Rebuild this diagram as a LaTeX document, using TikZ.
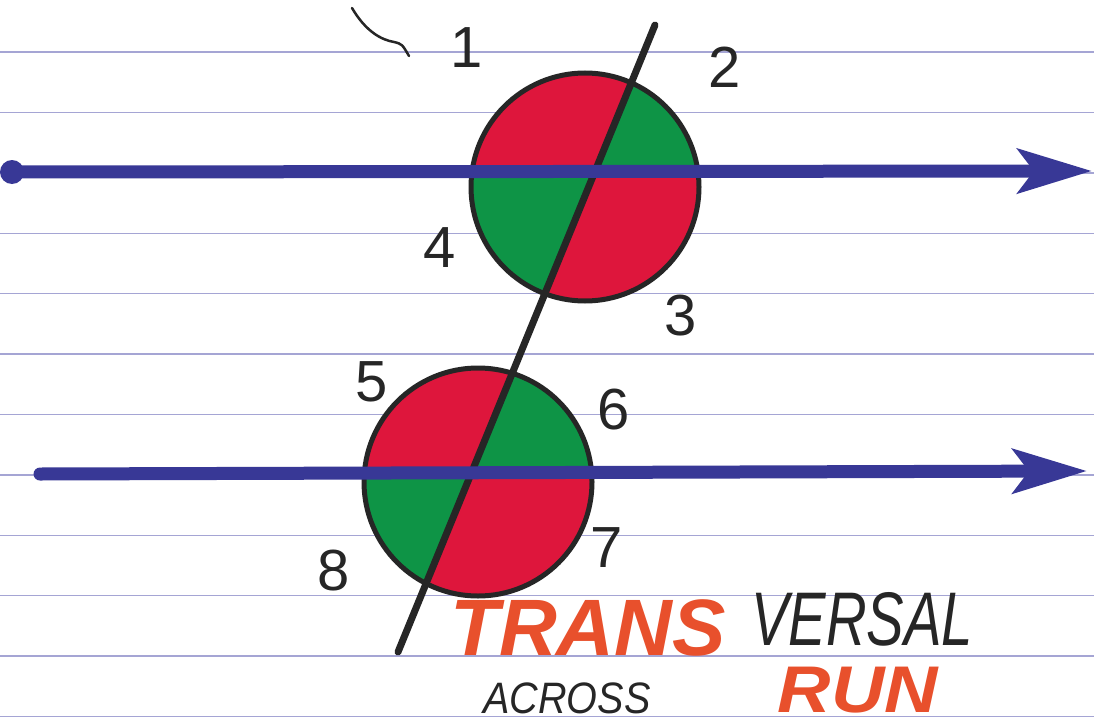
\documentclass[tikz,border=0pt]{standalone}
\usepackage{fontspec}
\setmainfont{Liberation Sans}
\usetikzlibrary{arrows.meta,calc}
\definecolor{paperline}{RGB}{165,165,212}
\definecolor{penblue}{RGB}{56,56,150}
\definecolor{penred}{RGB}{222,22,60}
\definecolor{pengreen}{RGB}{14,148,70}
\definecolor{penorange}{RGB}{232,80,44}
\definecolor{penblack}{RGB}{38,38,38}

\tikzset{
  numlabel/.style={font=\fontsize{58}{58}\selectfont, text=penblack, inner sep=0pt},
  bigword/.style={font=\fontsize{80}{80}\selectfont\itshape, inner sep=0pt},
  parallel/.style={penblue, line width=13pt, line cap=round, -{Stealth[length=74pt,width=44pt,inset=16pt]}},
  angleband/.style={circle, draw=penblack, line width=5pt, minimum size=228pt, inner sep=0pt}
}

\begin{document}
\begin{tikzpicture}[x=1pt,y=-1pt]
            % Paper
            \fill[white] (0,0) rectangle (1094,725);
            \useasboundingbox (0,0) rectangle (1094,725);
            \foreach \k in {0,...,11}
                \draw[paperline, line width=1.4pt] (0,52+60.4*\k) -- (1094,52+60.4*\k);

            % Transversal end points
            \coordinate (t1) at (655,25);
            \coordinate (t2) at (398,652);
            \coordinate (ta) at ($(t1)!-1!(t2)$);
            \coordinate (tz) at ($(t1)!2!(t2)$);

            % Coloured angle pairs
            \foreach \cx/\cy/\ly in {585/187/172, 478/482/474} {
                \coordinate (p) at (intersection of t1--t2 and 0,\ly--1094,\ly);
                \begin{scope}
                    \clip (\cx,\cy) circle (114pt);
                    \fill[penred] (-50,-300) -- (ta) -- (p) -- (-50,\ly) -- cycle;
                    \fill[pengreen] (ta) -- (1200,-300) -- (1200,\ly) -- (p) -- cycle;
                    \fill[pengreen] (-50,\ly) -- (p) -- (tz) -- (-50,1000) -- cycle;
                    \fill[penred] (p) -- (1200,\ly) -- (1200,1000) -- (tz) -- cycle;
                \end{scope}
            }
            \node[angleband] (upper) at (585,187) {};
            \node[angleband] (lower) at (478,482) {};

            % Transversal
            \draw[penblack, line width=7pt, line cap=round] (t1) -- (t2);

            % Parallel lines
            \coordinate (upstart) at (12,172);
            \coordinate (upend) at (1092,171);
            \coordinate (lowstart) at (40,474);
            \coordinate (lowend) at (1087,471);
            \draw[parallel] (upstart) -- (upend);
            \draw[parallel] (lowstart) -- (lowend);
            \fill[penblue] (upstart) circle (12pt);

            % Stray pen mark
            \draw[penblack, line width=2.5pt, line cap=round] (352,8) .. controls (366,32) and (382,40) .. (394,42) .. controls (402,44) .. (409,56);

            % Angle numbers
            \node[numlabel] (n1) at (467,48) {1};
            \node[numlabel] (n2) at (725,67) {2};
            \node[numlabel] (n3) at (681,316) {3};
            \node[numlabel] (n4) at (440,248) {4};
            \node[numlabel] (n5) at (372,382) {5};
            \node[numlabel] (n6) at (614,410) {6};
            \node[numlabel] (n7) at (607,548) {7};
            \node[numlabel] (n8) at (334,571) {8};

            % Word parts
            \node[bigword, text=penorange, font=\fontsize{80}{80}\selectfont\itshape\bfseries] (trans) at (588,628) {TRANS};
            \node[bigword, text=penblack, font=\fontsize{76}{76}\selectfont\itshape] (versal) at (862,619) {\scalebox{0.74}[1]{VERSAL}};
            \node[text=penblack, inner sep=0pt, font=\fontsize{44}{44}\selectfont\itshape] (across) at (567,698) {\scalebox{0.9}[1]{ACROSS}};
            \node[bigword, text=penorange, font=\fontsize{66}{66}\selectfont\itshape\bfseries] (run) at (858,690) {\scalebox{1.12}[1]{RUN}};
        \end{tikzpicture}
\end{document}
